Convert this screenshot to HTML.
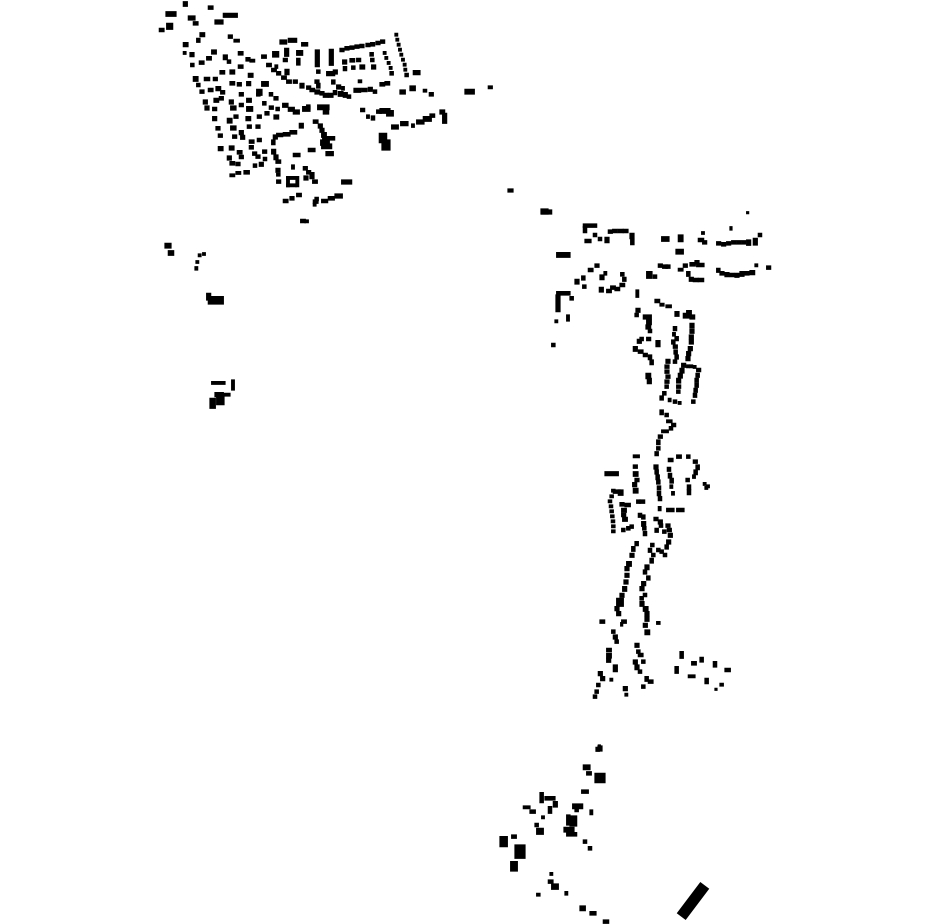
<!DOCTYPE html>
<html><head><meta charset="utf-8"><style>html,body{margin:0;padding:0;background:#fff;width:930px;height:924px;overflow:hidden}svg{display:block}svg rect{stroke:#000;stroke-width:1.2px;vector-effect:non-scaling-stroke}</style></head>
<body>
<svg width="930" height="924" viewBox="0 0 930 924" xmlns="http://www.w3.org/2000/svg">
<g fill="#000">
<g transform="translate(150,0) scale(0.3333)">
<rect x="100" y="5" width="12" height="14"/><rect x="175" y="18" width="14" height="10"/><rect x="48" y="35" width="30" height="14"/><rect x="50" y="70" width="18" height="18"/><rect x="28" y="85" width="14" height="10"/><rect x="115" y="48" width="20" height="12"/><rect x="130" y="65" width="14" height="10"/><rect x="195" y="60" width="24" height="12"/><rect x="220" y="40" width="42" height="12"/><rect x="150" y="98" width="14" height="12"/><rect x="140" y="115" width="10" height="12"/><rect x="235" y="105" width="12" height="10"/><rect x="252" y="118" width="16" height="8"/><rect x="100" y="128" width="14" height="12"/><rect x="100" y="155" width="8" height="8"/><rect x="120" y="158" width="12" height="12"/><rect x="122" y="190" width="10" height="10"/><rect x="148" y="183" width="14" height="10"/><rect x="170" y="170" width="14" height="10"/><rect x="185" y="150" width="14" height="12"/><rect x="220" y="165" width="12" height="14"/><rect x="232" y="180" width="10" height="10"/><rect x="265" y="155" width="14" height="10"/><rect x="288" y="173" width="12" height="10"/><rect x="300" y="178" width="14" height="8"/><rect x="130" y="230" width="14" height="14"/><rect x="140" y="250" width="10" height="10"/><rect x="163" y="232" width="16" height="10"/><rect x="190" y="232" width="12" height="10"/><rect x="210" y="212" width="14" height="10"/><rect x="240" y="210" width="14" height="12"/><rect x="265" y="195" width="14" height="10"/><rect x="295" y="220" width="14" height="12"/><rect x="150" y="270" width="12" height="10"/><rect x="175" y="265" width="14" height="10"/><rect x="198" y="260" width="14" height="12"/><rect x="212" y="272" width="12" height="10"/><rect x="240" y="245" width="14" height="10"/><rect x="262" y="248" width="12" height="10"/><rect x="290" y="245" width="12" height="12"/><rect x="335" y="245" width="20" height="14"/><rect x="320" y="268" width="16" height="18"/><rect x="160" y="300" width="12" height="12"/><rect x="192" y="295" width="14" height="12"/><rect x="208" y="290" width="12" height="10"/><rect x="238" y="300" width="12" height="12"/><rect x="268" y="278" width="12" height="10"/><rect x="290" y="295" width="14" height="12"/><rect x="320" y="280" width="10" height="8"/><rect x="358" y="278" width="10" height="10"/><rect x="372" y="290" width="12" height="10"/><rect x="165" y="318" width="12" height="12"/><rect x="188" y="322" width="12" height="10"/><rect x="242" y="318" width="16" height="12"/><rect x="268" y="310" width="12" height="10"/><rect x="290" y="320" width="18" height="14"/><rect x="338" y="305" width="10" height="10"/><rect x="358" y="318" width="12" height="10"/><rect x="378" y="322" width="10" height="10"/><rect x="188" y="350" width="12" height="12"/><rect x="232" y="355" width="14" height="14"/><rect x="252" y="345" width="12" height="10"/><rect x="288" y="350" width="14" height="12"/><rect x="322" y="345" width="12" height="10"/><rect x="345" y="335" width="12" height="10"/><rect x="372" y="345" width="14" height="12"/><rect x="198" y="380" width="12" height="10"/><rect x="242" y="378" width="16" height="12"/><rect x="268" y="392" width="12" height="12"/><rect x="292" y="375" width="12" height="10"/><rect x="318" y="375" width="12" height="10"/><rect x="205" y="402" width="12" height="10"/><rect x="248" y="405" width="12" height="10"/><rect x="272" y="406" width="12" height="12"/><rect x="298" y="420" width="14" height="10"/><rect x="322" y="415" width="12" height="10"/><rect x="205" y="440" width="14" height="12"/><rect x="238" y="438" width="14" height="12"/><rect x="262" y="452" width="14" height="10"/><rect x="298" y="437" width="12" height="10"/><rect x="308" y="456" width="12" height="10"/><rect x="232" y="468" width="12" height="12"/><rect x="268" y="466" width="12" height="10"/><rect x="318" y="465" width="12" height="10"/><rect x="240" y="485" width="14" height="10"/><rect x="258" y="487" width="12" height="10"/><rect x="328" y="487" width="12" height="12"/><rect x="240" y="522" width="14" height="8"/><rect x="258" y="515" width="14" height="8"/><rect x="282" y="512" width="16" height="10"/><rect x="340" y="472" width="10" height="10"/><rect x="338" y="450" width="12" height="10"/><rect x="310" y="492" width="10" height="10"/>
<rect x="335" y="165" width="14" height="10"/><rect x="350" y="190" width="14" height="10"/><rect x="365" y="205" width="14" height="10"/><rect x="380" y="215" width="12" height="10"/><rect x="395" y="228" width="14" height="10"/><rect x="405" y="208" width="12" height="16"/><rect x="375" y="195" width="8" height="10"/><rect x="410" y="240" width="14" height="10"/><rect x="430" y="240" width="12" height="10"/><rect x="450" y="250" width="12" height="14"/><rect x="470" y="258" width="12" height="10"/><rect x="495" y="240" width="12" height="10"/><rect x="500" y="250" width="10" height="14"/><rect x="545" y="240" width="10" height="12"/><rect x="560" y="255" width="12" height="12"/><rect x="575" y="260" width="8" height="10"/>
<rect x="390" y="120" width="20" height="12"/><rect x="415" y="115" width="25" height="12"/><rect x="455" y="128" width="18" height="10"/><rect x="368" y="155" width="18" height="16"/><rect x="404" y="145" width="12" height="24"/><rect x="400" y="175" width="12" height="10"/><rect x="440" y="152" width="18" height="14"/><rect x="440" y="175" width="10" height="20"/><rect x="496" y="150" width="12" height="50"/><rect x="538" y="148" width="12" height="48"/><rect x="500" y="210" width="10" height="10"/><rect x="530" y="215" width="24" height="12"/><rect x="550" y="210" width="12" height="12"/><rect x="570" y="145" width="12" height="10"/><rect x="585" y="140" width="12" height="10"/><rect x="600" y="138" width="12" height="10"/><rect x="615" y="135" width="12" height="10"/><rect x="630" y="133" width="12" height="10"/><rect x="648" y="130" width="12" height="10"/><rect x="662" y="128" width="12" height="10"/><rect x="678" y="124" width="12" height="10"/><rect x="692" y="120" width="12" height="10"/><rect x="735" y="100" width="8" height="8"/><rect x="738" y="115" width="8" height="8"/><rect x="742" y="130" width="8" height="8"/><rect x="746" y="145" width="8" height="8"/><rect x="750" y="160" width="8" height="8"/><rect x="755" y="175" width="8" height="8"/><rect x="760" y="190" width="8" height="8"/><rect x="762" y="205" width="8" height="8"/><rect x="765" y="220" width="10" height="10"/><rect x="790" y="212" width="20" height="12"/><rect x="578" y="180" width="12" height="12"/><rect x="600" y="176" width="14" height="10"/><rect x="620" y="175" width="12" height="10"/><rect x="630" y="195" width="14" height="12"/><rect x="580" y="200" width="10" height="12"/><rect x="605" y="198" width="10" height="10"/><rect x="660" y="158" width="10" height="10"/><rect x="662" y="175" width="10" height="10"/><rect x="665" y="195" width="12" height="12"/><rect x="700" y="155" width="8" height="8"/><rect x="705" y="170" width="8" height="8"/><rect x="712" y="185" width="8" height="8"/><rect x="718" y="200" width="8" height="8"/><rect x="720" y="215" width="10" height="10"/><rect x="625" y="240" width="10" height="8"/><rect x="480" y="265" width="14" height="10"/><rect x="495" y="270" width="14" height="12"/><rect x="510" y="275" width="12" height="10"/><rect x="520" y="280" width="14" height="12"/><rect x="535" y="280" width="14" height="12"/><rect x="550" y="272" width="10" height="12"/><rect x="565" y="275" width="14" height="14"/><rect x="580" y="278" width="12" height="14"/><rect x="592" y="285" width="10" height="10"/><rect x="612" y="265" width="20" height="12"/><rect x="635" y="265" width="16" height="10"/><rect x="655" y="262" width="12" height="12"/><rect x="670" y="270" width="10" height="10"/><rect x="690" y="248" width="14" height="10"/><rect x="705" y="245" width="14" height="10"/><rect x="750" y="270" width="16" height="12"/><rect x="780" y="258" width="16" height="14"/><rect x="820" y="268" width="10" height="8"/><rect x="838" y="278" width="12" height="10"/><rect x="945" y="268" width="28" height="14"/><rect x="1015" y="258" width="12" height="8"/><rect x="503" y="315" width="34" height="14"/><rect x="520" y="330" width="16" height="12"/><rect x="458" y="320" width="22" height="14"/><rect x="470" y="315" width="10" height="12"/><rect x="398" y="310" width="16" height="12"/><rect x="415" y="322" width="18" height="12"/><rect x="430" y="330" width="18" height="12"/><rect x="632" y="325" width="12" height="10"/><rect x="650" y="345" width="8" height="10"/><rect x="664" y="348" width="10" height="12"/><rect x="680" y="330" width="14" height="10"/><rect x="690" y="326" width="30" height="14"/><rect x="710" y="332" width="20" height="16"/><rect x="725" y="375" width="20" height="12"/><rect x="752" y="365" width="22" height="12"/><rect x="785" y="372" width="8" height="10"/><rect x="800" y="360" width="22" height="12"/><rect x="820" y="350" width="24" height="14"/><rect x="840" y="342" width="14" height="10"/><rect x="870" y="330" width="14" height="12"/><rect x="878" y="340" width="12" height="30"/><rect x="688" y="400" width="22" height="28"/><rect x="696" y="420" width="24" height="30"/><rect x="490" y="360" width="14" height="10"/><rect x="505" y="372" width="12" height="12"/><rect x="510" y="385" width="12" height="12"/><rect x="515" y="398" width="14" height="14"/><rect x="518" y="410" width="36" height="10"/><rect x="512" y="420" width="26" height="16"/><rect x="515" y="432" width="30" height="14"/><rect x="528" y="455" width="22" height="12"/><rect x="370" y="405" width="12" height="12"/><rect x="365" y="420" width="10" height="14"/><rect x="380" y="400" width="18" height="10"/><rect x="400" y="398" width="20" height="10"/><rect x="420" y="392" width="20" height="10"/><rect x="448" y="370" width="12" height="14"/><rect x="365" y="448" width="12" height="14"/><rect x="372" y="465" width="12" height="14"/><rect x="378" y="480" width="14" height="10"/><rect x="378" y="505" width="12" height="12"/><rect x="380" y="520" width="10" height="8"/><rect x="380" y="540" width="12" height="10"/><rect x="430" y="460" width="20" height="10"/><rect x="475" y="445" width="20" height="10"/><rect x="410" y="530" width="28" height="8"/><rect x="410" y="530" width="8" height="30"/><rect x="410" y="552" width="28" height="8"/><rect x="438" y="530" width="8" height="30"/><rect x="425" y="495" width="8" height="12"/><rect x="460" y="500" width="12" height="10"/><rect x="470" y="512" width="12" height="10"/><rect x="462" y="528" width="12" height="12"/><rect x="480" y="518" width="12" height="18"/><rect x="488" y="540" width="14" height="10"/><rect x="575" y="540" width="30" height="12"/><rect x="400" y="598" width="14" height="10"/><rect x="420" y="590" width="12" height="10"/><rect x="440" y="580" width="14" height="10"/><rect x="490" y="600" width="14" height="10"/><rect x="495" y="592" width="10" height="10"/><rect x="515" y="598" width="18" height="10"/><rect x="535" y="590" width="18" height="10"/><rect x="555" y="582" width="22" height="12"/><rect x="490" y="610" width="8" height="8"/><rect x="452" y="658" width="14" height="10"/><rect x="465" y="660" width="10" height="8"/>
</g>
<g transform="translate(150,230) scale(0.3333)">
<rect x="45" y="40" width="18" height="14"/><rect x="55" y="62" width="16" height="14"/><rect x="145" y="72" width="8" height="8"/><rect x="158" y="68" width="8" height="8"/><rect x="138" y="92" width="8" height="8"/><rect x="135" y="110" width="8" height="10"/><rect x="170" y="190" width="12" height="20"/><rect x="175" y="200" width="45" height="22"/><rect x="185" y="455" width="40" height="8"/><rect x="245" y="450" width="8" height="30"/><rect x="195" y="488" width="25" height="12"/><rect x="220" y="490" width="20" height="8"/><rect x="200" y="498" width="22" height="26"/><rect x="180" y="505" width="16" height="30"/>
</g>
<rect x="508" y="189" width="5" height="3"/><rect x="541" y="209" width="7" height="5"/><rect x="598" y="746" width="4" height="5"/>
<g transform="translate(540,200) scale(0.3333)">
<rect x="5" y="30" width="30" height="12"/><rect x="620" y="35" width="6" height="6"/><rect x="130" y="72" width="40" height="10"/><rect x="130" y="80" width="10" height="18"/><rect x="135" y="118" width="18" height="10"/><rect x="160" y="100" width="10" height="10"/><rect x="175" y="112" width="10" height="10"/><rect x="195" y="112" width="12" height="16"/><rect x="205" y="90" width="12" height="10"/><rect x="218" y="88" width="14" height="10"/><rect x="235" y="88" width="14" height="10"/><rect x="250" y="88" width="14" height="10"/><rect x="270" y="100" width="12" height="16"/><rect x="272" y="118" width="10" height="16"/><rect x="365" y="110" width="22" height="14"/><rect x="415" y="105" width="14" height="20"/><rect x="408" y="148" width="22" height="14"/><rect x="485" y="95" width="8" height="8"/><rect x="475" y="115" width="16" height="10"/><rect x="488" y="122" width="12" height="10"/><rect x="530" y="125" width="12" height="10"/><rect x="545" y="128" width="12" height="10"/><rect x="560" y="125" width="12" height="10"/><rect x="575" y="122" width="12" height="10"/><rect x="590" y="122" width="12" height="10"/><rect x="605" y="122" width="12" height="10"/><rect x="620" y="120" width="12" height="16"/><rect x="640" y="115" width="12" height="20"/><rect x="655" y="100" width="10" height="10"/><rect x="570" y="80" width="6" height="10"/><rect x="50" y="158" width="40" height="14"/><rect x="145" y="205" width="14" height="10"/><rect x="165" y="192" width="12" height="10"/><rect x="105" y="238" width="12" height="14"/><rect x="125" y="228" width="10" height="12"/><rect x="128" y="255" width="10" height="10"/><rect x="180" y="225" width="12" height="14"/><rect x="192" y="215" width="8" height="10"/><rect x="178" y="262" width="12" height="14"/><rect x="200" y="268" width="14" height="10"/><rect x="212" y="258" width="14" height="10"/><rect x="225" y="262" width="14" height="10"/><rect x="240" y="250" width="14" height="10"/><rect x="248" y="232" width="10" height="12"/><rect x="242" y="218" width="10" height="10"/><rect x="288" y="270" width="8" height="22"/><rect x="320" y="215" width="16" height="20"/><rect x="340" y="225" width="10" height="10"/><rect x="355" y="192" width="12" height="10"/><rect x="368" y="195" width="14" height="10"/><rect x="378" y="195" width="12" height="10"/><rect x="415" y="205" width="14" height="8"/><rect x="430" y="192" width="12" height="10"/><rect x="450" y="188" width="16" height="10"/><rect x="465" y="182" width="12" height="10"/><rect x="470" y="190" width="22" height="10"/><rect x="440" y="215" width="10" height="14"/><rect x="448" y="232" width="12" height="12"/><rect x="460" y="235" width="14" height="10"/><rect x="475" y="235" width="16" height="10"/><rect x="530" y="205" width="10" height="12"/><rect x="540" y="215" width="12" height="10"/><rect x="555" y="218" width="12" height="12"/><rect x="570" y="220" width="12" height="10"/><rect x="585" y="220" width="12" height="12"/><rect x="600" y="215" width="12" height="14"/><rect x="615" y="215" width="12" height="10"/><rect x="630" y="212" width="14" height="12"/><rect x="645" y="192" width="8" height="8"/><rect x="680" y="198" width="12" height="10"/><rect x="50" y="275" width="40" height="10"/><rect x="48" y="285" width="12" height="50"/><rect x="90" y="290" width="10" height="10"/><rect x="45" y="360" width="8" height="8"/><rect x="80" y="345" width="8" height="18"/><rect x="35" y="430" width="10" height="10"/><rect x="345" y="298" width="14" height="10"/><rect x="360" y="310" width="12" height="8"/><rect x="378" y="315" width="16" height="8"/><rect x="405" y="335" width="12" height="14"/><rect x="430" y="340" width="20" height="14"/><rect x="440" y="332" width="14" height="10"/><rect x="288" y="325" width="12" height="12"/><rect x="285" y="340" width="10" height="10"/><rect x="310" y="345" width="24" height="12"/><rect x="320" y="360" width="14" height="14"/><rect x="318" y="375" width="14" height="12"/><rect x="325" y="388" width="10" height="10"/><rect x="292" y="418" width="12" height="12"/><rect x="300" y="412" width="10" height="10"/><rect x="320" y="412" width="12" height="10"/><rect x="348" y="422" width="12" height="18"/><rect x="280" y="440" width="12" height="14"/><rect x="295" y="450" width="14" height="10"/><rect x="310" y="460" width="12" height="10"/><rect x="325" y="465" width="10" height="14"/><rect x="330" y="480" width="10" height="14"/><rect x="318" y="520" width="14" height="16"/><rect x="322" y="535" width="12" height="16"/><rect x="400" y="380" width="10" height="12"/><rect x="398" y="398" width="8" height="10"/><rect x="405" y="410" width="10" height="12"/><rect x="395" y="420" width="10" height="12"/><rect x="400" y="435" width="12" height="10"/><rect x="402" y="450" width="10" height="12"/><rect x="405" y="465" width="10" height="12"/><rect x="400" y="480" width="10" height="10"/><rect x="378" y="478" width="12" height="12"/><rect x="375" y="495" width="12" height="10"/><rect x="375" y="510" width="12" height="10"/><rect x="378" y="525" width="12" height="10"/><rect x="375" y="540" width="12" height="10"/><rect x="375" y="555" width="10" height="10"/><rect x="368" y="575" width="10" height="10"/><rect x="450" y="345" width="14" height="12"/><rect x="450" y="370" width="12" height="14"/><rect x="450" y="388" width="12" height="12"/><rect x="448" y="405" width="12" height="12"/><rect x="448" y="420" width="12" height="12"/><rect x="445" y="440" width="12" height="12"/><rect x="440" y="455" width="12" height="12"/><rect x="438" y="470" width="12" height="12"/><rect x="425" y="490" width="12" height="12"/><rect x="420" y="505" width="12" height="14"/><rect x="415" y="520" width="12" height="14"/><rect x="410" y="535" width="12" height="14"/><rect x="410" y="555" width="12" height="10"/><rect x="410" y="570" width="10" height="10"/><rect x="440" y="495" width="8" height="8"/><rect x="450" y="495" width="8" height="8"/><rect x="460" y="497" width="8" height="8"/><rect x="470" y="505" width="12" height="10"/><rect x="468" y="520" width="10" height="12"/><rect x="465" y="535" width="10" height="12"/><rect x="465" y="550" width="10" height="12"/><rect x="462" y="565" width="10" height="12"/><rect x="460" y="580" width="10" height="12"/><rect x="455" y="600" width="10" height="10"/><rect x="360" y="588" width="10" height="12"/><rect x="385" y="595" width="8" height="10"/><rect x="400" y="600" width="10" height="10"/><rect x="415" y="605" width="8" height="8"/><rect x="360" y="630" width="10" height="14"/><rect x="375" y="640" width="10" height="10"/><rect x="380" y="660" width="16" height="8"/><rect x="395" y="670" width="12" height="10"/><rect x="388" y="680" width="10" height="10"/>
</g>
<g transform="translate(580,430) scale(0.3333)">
<rect x="245" y="0" width="20" height="8"/><rect x="235" y="15" width="12" height="10"/><rect x="230" y="30" width="10" height="14"/><rect x="230" y="50" width="10" height="10"/><rect x="225" y="65" width="10" height="12"/><rect x="222" y="105" width="12" height="12"/><rect x="225" y="120" width="10" height="12"/><rect x="228" y="135" width="10" height="14"/><rect x="230" y="150" width="10" height="12"/><rect x="232" y="168" width="10" height="12"/><rect x="232" y="185" width="10" height="12"/><rect x="235" y="200" width="10" height="12"/><rect x="235" y="230" width="8" height="12"/><rect x="260" y="235" width="22" height="10"/><rect x="290" y="235" width="22" height="10"/><rect x="160" y="75" width="18" height="8"/><rect x="75" y="125" width="40" height="12"/><rect x="160" y="105" width="12" height="10"/><rect x="160" y="125" width="14" height="14"/><rect x="165" y="145" width="12" height="10"/><rect x="158" y="158" width="12" height="12"/><rect x="160" y="175" width="14" height="14"/><rect x="180" y="210" width="14" height="10"/><rect x="170" y="210" width="10" height="10"/><rect x="265" y="85" width="14" height="10"/><rect x="290" y="75" width="14" height="10"/><rect x="320" y="75" width="10" height="10"/><rect x="340" y="90" width="12" height="10"/><rect x="348" y="105" width="10" height="14"/><rect x="342" y="120" width="10" height="14"/><rect x="338" y="135" width="8" height="10"/><rect x="262" y="112" width="10" height="12"/><rect x="265" y="130" width="10" height="14"/><rect x="270" y="145" width="10" height="14"/><rect x="270" y="165" width="8" height="10"/><rect x="275" y="185" width="8" height="10"/><rect x="318" y="145" width="10" height="10"/><rect x="322" y="165" width="10" height="14"/><rect x="322" y="180" width="10" height="14"/><rect x="370" y="158" width="8" height="8"/><rect x="380" y="165" width="8" height="8"/><rect x="375" y="170" width="8" height="8"/><rect x="95" y="178" width="10" height="8"/><rect x="90" y="195" width="10" height="8"/><rect x="85" y="210" width="10" height="8"/><rect x="88" y="225" width="10" height="8"/><rect x="90" y="240" width="10" height="8"/><rect x="92" y="255" width="10" height="8"/><rect x="94" y="270" width="10" height="8"/><rect x="95" y="285" width="10" height="8"/><rect x="95" y="300" width="10" height="8"/><rect x="100" y="180" width="20" height="10"/><rect x="115" y="180" width="14" height="16"/><rect x="120" y="218" width="12" height="10"/><rect x="135" y="220" width="16" height="10"/><rect x="125" y="235" width="14" height="12"/><rect x="125" y="250" width="12" height="10"/><rect x="128" y="262" width="14" height="12"/><rect x="125" y="295" width="10" height="10"/><rect x="140" y="290" width="10" height="10"/><rect x="150" y="285" width="10" height="10"/><rect x="175" y="250" width="10" height="12"/><rect x="185" y="255" width="10" height="12"/><rect x="185" y="275" width="12" height="14"/><rect x="188" y="290" width="10" height="10"/><rect x="190" y="305" width="10" height="12"/><rect x="222" y="262" width="12" height="10"/><rect x="235" y="270" width="12" height="12"/><rect x="238" y="282" width="10" height="10"/><rect x="225" y="295" width="10" height="12"/><rect x="248" y="300" width="10" height="10"/><rect x="258" y="282" width="12" height="10"/><rect x="262" y="295" width="12" height="10"/><rect x="265" y="310" width="12" height="12"/><rect x="260" y="330" width="12" height="12"/><rect x="255" y="345" width="10" height="12"/><rect x="240" y="360" width="10" height="10"/><rect x="250" y="370" width="10" height="10"/><rect x="230" y="355" width="10" height="10"/><rect x="212" y="340" width="10" height="10"/><rect x="205" y="355" width="10" height="12"/><rect x="215" y="370" width="10" height="10"/><rect x="210" y="385" width="10" height="14"/><rect x="195" y="405" width="12" height="14"/><rect x="190" y="420" width="10" height="12"/><rect x="200" y="438" width="10" height="12"/><rect x="185" y="455" width="12" height="12"/><rect x="180" y="470" width="12" height="12"/><rect x="190" y="490" width="10" height="10"/><rect x="180" y="500" width="10" height="10"/><rect x="180" y="515" width="12" height="14"/><rect x="190" y="530" width="14" height="14"/><rect x="195" y="545" width="12" height="12"/><rect x="195" y="560" width="12" height="14"/><rect x="190" y="580" width="12" height="12"/><rect x="195" y="600" width="14" height="14"/><rect x="230" y="575" width="10" height="8"/><rect x="165" y="335" width="10" height="12"/><rect x="155" y="350" width="10" height="14"/><rect x="150" y="370" width="12" height="12"/><rect x="140" y="395" width="14" height="14"/><rect x="135" y="410" width="12" height="12"/><rect x="135" y="430" width="12" height="12"/><rect x="132" y="450" width="12" height="12"/><rect x="128" y="470" width="12" height="14"/><rect x="120" y="490" width="12" height="12"/><rect x="110" y="505" width="20" height="24"/><rect x="105" y="530" width="12" height="12"/><rect x="110" y="545" width="12" height="12"/><rect x="125" y="570" width="14" height="10"/><rect x="122" y="578" width="6" height="10"/><rect x="60" y="570" width="14" height="10"/><rect x="95" y="600" width="10" height="10"/><rect x="100" y="615" width="12" height="12"/><rect x="105" y="630" width="10" height="10"/><rect x="80" y="655" width="14" height="10"/><rect x="80" y="670" width="14" height="14"/><rect x="80" y="685" width="12" height="12"/><rect x="100" y="705" width="12" height="20"/><rect x="165" y="640" width="12" height="12"/><rect x="170" y="660" width="10" height="10"/><rect x="175" y="670" width="14" height="10"/><rect x="160" y="690" width="12" height="12"/><rect x="165" y="705" width="12" height="14"/><rect x="175" y="720" width="10" height="10"/><rect x="185" y="690" width="10" height="10"/><rect x="195" y="740" width="10" height="14"/><rect x="205" y="750" width="14" height="10"/><rect x="185" y="765" width="10" height="10"/><rect x="130" y="770" width="12" height="12"/><rect x="135" y="790" width="8" height="8"/><rect x="90" y="745" width="8" height="8"/><rect x="55" y="725" width="12" height="12"/><rect x="62" y="740" width="12" height="12"/><rect x="50" y="760" width="10" height="10"/><rect x="45" y="780" width="10" height="10"/><rect x="40" y="795" width="10" height="10"/><rect x="300" y="665" width="10" height="20"/><rect x="285" y="710" width="10" height="20"/><rect x="335" y="695" width="14" height="10"/><rect x="360" y="682" width="10" height="14"/><rect x="400" y="695" width="10" height="16"/><rect x="435" y="715" width="16" height="10"/><rect x="325" y="735" width="20" height="8"/><rect x="375" y="745" width="10" height="16"/><rect x="420" y="760" width="10" height="8"/><rect x="405" y="775" width="6" height="6"/>
</g>
<g transform="translate(490,740) scale(0.3333)">
<rect x="318" y="22" width="10" height="12"/><rect x="325" y="15" width="6" height="6"/><rect x="280" y="75" width="20" height="14"/><rect x="290" y="95" width="14" height="10"/><rect x="315" y="100" width="30" height="28"/><rect x="275" y="150" width="20" height="10"/><rect x="150" y="158" width="10" height="30"/><rect x="165" y="170" width="30" height="10"/><rect x="190" y="185" width="12" height="16"/><rect x="175" y="200" width="10" height="20"/><rect x="100" y="198" width="20" height="8"/><rect x="120" y="210" width="16" height="10"/><rect x="155" y="228" width="8" height="8"/><rect x="135" y="250" width="10" height="10"/><rect x="140" y="265" width="20" height="18"/><rect x="248" y="192" width="30" height="14"/><rect x="255" y="205" width="10" height="10"/><rect x="230" y="225" width="10" height="30"/><rect x="240" y="228" width="20" height="30"/><rect x="222" y="262" width="30" height="14"/><rect x="230" y="278" width="30" height="10"/><rect x="300" y="210" width="8" height="14"/><rect x="280" y="300" width="10" height="10"/><rect x="295" y="320" width="10" height="10"/><rect x="30" y="290" width="22" height="30"/><rect x="65" y="285" width="14" height="10"/><rect x="75" y="315" width="30" height="40"/><rect x="62" y="365" width="20" height="28"/><rect x="180" y="398" width="8" height="8"/><rect x="175" y="420" width="14" height="10"/><rect x="185" y="432" width="20" height="16"/><rect x="225" y="455" width="8" height="10"/><rect x="140" y="460" width="10" height="8"/><rect x="270" y="498" width="16" height="14"/><rect x="300" y="515" width="18" height="10"/><rect x="340" y="540" width="16" height="10"/>
</g>
<rect x="-5" y="-19" width="10" height="38" transform="translate(693,901) rotate(37)"/>
</g>
</svg>
</body></html>
